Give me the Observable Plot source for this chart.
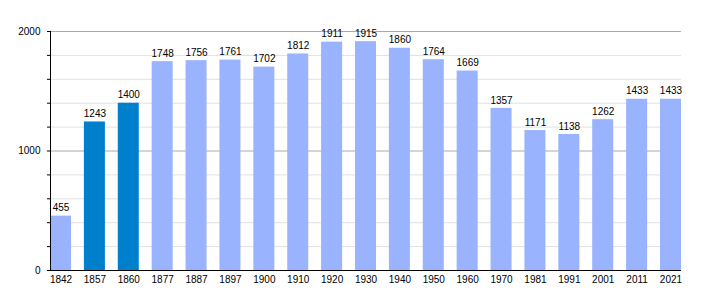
<!DOCTYPE html>
<html><head><meta charset="utf-8">
<script src="https://cdn.jsdelivr.net/npm/d3@7"></script>
<script src="https://cdn.jsdelivr.net/npm/@observablehq/plot@0.6"></script>
<style>body{margin:0;background:#fff}</style>
</head><body><div id="chart"></div>
<script>
const years = ["1842","1857","1860","1877","1887","1897","1900","1910","1920","1930","1940","1950","1960","1970","1981","1991","2001","2011","2021"];
const population = [455,1243,1400,1748,1756,1761,1702,1812,1911,1915,1860,1764,1669,1357,1171,1138,1262,1433,1433];
const highlighted = ["1857","1860"];
const majorTicks = [0,1000,2000];
const minorTicks = [200,400,600,800,1200,1400,1600,1800];
const allTicks = [0,200,400,600,800,1000,1200,1400,1600,1800,2000];

const data = years.map((y,i)=>({year:y, value:population[i], hi: highlighted.includes(y)}));

const chart = Plot.plot({
  width: 710, height: 300,
  marginLeft: 50, marginRight: 29, marginTop: 31, marginBottom: 30,
  style: {fontFamily: "'Liberation Sans', Arial, sans-serif", fontSize: "10px", color: "#000"},
  x: {type: "band", domain: years, paddingInner: 0.38, paddingOuter: 0, round: false},
  y: {domain: [0, 2000]},
  marks: [
    Plot.gridY(minorTicks, {stroke: "#e0e0e0", strokeOpacity: 1}),
    Plot.gridY([1000, 2000], {stroke: "#aaaaaa", strokeOpacity: 1}),
    Plot.barY(data, {x: "year", y: "value", fill: d => d.hi ? "#0080cc" : "#99b3ff"}),
    Plot.text(data, {x: "year", y: "value", text: d => String(d.value), dy: -8, fill: "#000", fontSize: 10}),
    Plot.axisY(allTicks, {tickSize: 3, tickFormat: () => "", stroke: "#000", label: null}),
    Plot.axisY(majorTicks, {tickSize: 0, tickPadding: 10, tickFormat: "d", label: null, fontSize: 10}),
    Plot.axisX({tickSize: 0, tickPadding: 5, label: null, fontSize: 10}),
    Plot.frame({anchor: "left", stroke: "#000"}),
    Plot.ruleY([0], {stroke: "#000"})
  ]
});
document.getElementById("chart").appendChild(chart);
</script>
</body></html>
